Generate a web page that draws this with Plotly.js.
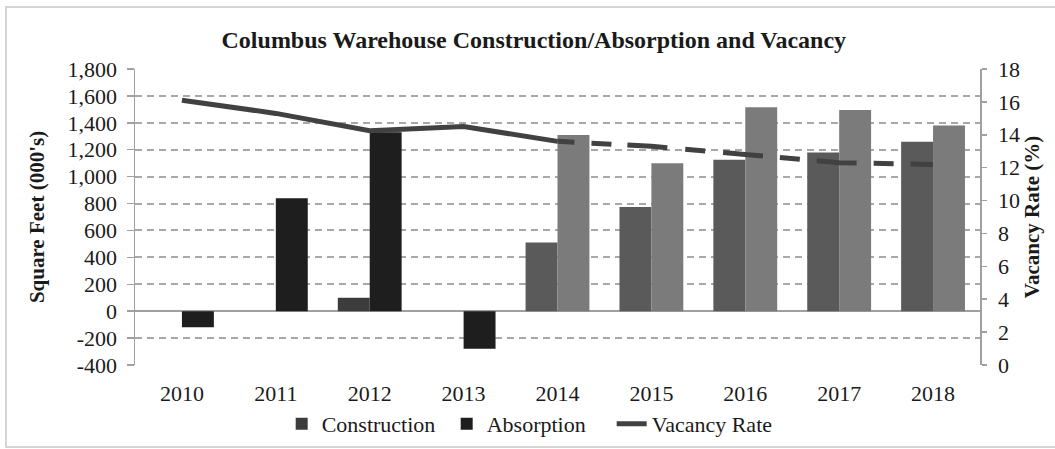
<!DOCTYPE html>
<html>
<head>
<meta charset="utf-8">
<script src="https://cdn.plot.ly/plotly-3.0.1.min.js"></script>
<style>
  html, body { margin: 0; padding: 0; background: #fff; }
  #chart { width: 1055px; height: 449px; }
</style>
</head>
<body>
<div id="chart"></div>
<script>
const years = ['2010', '2011', '2012', '2013', '2014', '2015', '2016', '2017', '2018'];
const construction = [0, 0, 100, 0, 510, 775, 1125, 1180, 1260];
const absorption = [-120, 840, 1330, -280, 1310, 1100, 1515, 1495, 1380];

// vacancy: actual through 2014, forecast after
const vacancyYears = ['2010', '2011', '2012', '2013', '2014'];
const vacancy = [16.1, 15.3, 14.25, 14.5, 13.6];
const forecastYears = ['2014', '2015', '2016', '2017', '2018'];
const forecast = [13.6, 13.3, 12.8, 12.3, 12.2];

// left axis ticks, plain hyphen for negatives like the original
const sqftTicks = [-400, -200, 0, 200, 400, 600, 800, 1000, 1200, 1400, 1600, 1800];
const sqftLabels = sqftTicks.map(v => v.toLocaleString('en-US'));

const serif = '"Liberation Serif", "Times New Roman", serif';
const isForecast = y => parseInt(y) >= 2014;

const traces = [
    {
        x: years, y: construction, type: 'bar', name: 'Construction',
        marker: { color: years.map(y => isForecast(y) ? '#5a5a5a' : '#3c3c3c') }
    },
    {
        x: years, y: absorption, type: 'bar', name: 'Absorption',
        marker: { color: years.map(y => isForecast(y) ? '#7b7b7b' : '#1e1e1e') }
    },
    {
        x: vacancyYears, y: vacancy, type: 'scatter', mode: 'lines', name: 'Vacancy Rate',
        yaxis: 'y2', line: { color: '#414141', width: 5 }
    },
    {
        x: forecastYears, y: forecast, type: 'scatter', mode: 'lines', name: 'Vacancy Rate',
        yaxis: 'y2', showlegend: false,
        line: { color: '#414141', width: 5,
                dash: '17px,17px,20px,16px,40px,18px,20px,18px,40px,17px,20px,17px,40px,17px,20px,17px,40px,17px' }
    }
];

const layout = {
    width: 1055, height: 449,
    margin: { l: 135, r: 75, t: 69, b: 84 },
    paper_bgcolor: '#fff', plot_bgcolor: '#fff',
    font: { family: serif, color: '#1a1a1a', size: 22 },
    title: {
        text: '<b>Columbus Warehouse Construction/Absorption and Vacancy</b>',
        font: { family: serif, size: 24, color: '#1a1a1a' },
        x: 0.506, xanchor: 'center', y: 0.911, yanchor: 'middle'
    },
    barmode: 'group', bargap: 0.32, bargroupgap: 0,
    showlegend: true,
    legend: {
        orientation: 'h', xref: 'container', yref: 'container',
        x: 0.267, xanchor: 'left', y: 0.056, yanchor: 'middle',
        entrywidth: 120, entrywidthmode: 'pixels',
        font: { family: serif, size: 22, color: '#1a1a1a' },
        bgcolor: 'rgba(0,0,0,0)', traceorder: 'normal'
    },
    xaxis: {
        type: 'category', showline: false, showgrid: false, zeroline: false,
        ticks: '', ticklabelstandoff: 13, automargin: false,
        tickfont: { family: serif, size: 22, color: '#1a1a1a' }
    },
    xaxis2: {
        overlaying: 'x', anchor: 'free', position: 400 / 2200, automargin: false,
        range: [-0.5, 8.5], tickvals: [0.5, 1.5, 2.5, 3.5, 4.5, 5.5, 6.5, 7.5],
        ticks: 'outside', ticklen: 6, tickwidth: 1.5, tickcolor: '#a0a0a0',
        showticklabels: false, showline: false, showgrid: false, zeroline: false
    },
    yaxis: {
        range: [-400, 1800], tickmode: 'array', tickvals: sqftTicks, ticktext: sqftLabels,
        automargin: false,
        showgrid: true, gridcolor: '#a8a8a8', gridwidth: 2, griddash: '7px,5px',
        zeroline: true, zerolinecolor: '#a0a0a0', zerolinewidth: 1.5,
        showline: true, linecolor: '#a0a0a0', linewidth: 1.5,
        ticks: 'outside', ticklen: 7, tickwidth: 1.5, tickcolor: '#a0a0a0',
        ticklabelstandoff: 5,
        tickfont: { family: serif, size: 22, color: '#1a1a1a' },
        title: { text: "<b>Square Feet (000's)</b>", standoff: 17,
                 font: { family: serif, size: 21, color: '#1a1a1a' } }
    },
    yaxis2: {
        overlaying: 'y', side: 'right', range: [0, 18], dtick: 2, automargin: false,
        showgrid: false, zeroline: false,
        showline: true, linecolor: '#a0a0a0', linewidth: 1.5,
        ticks: 'outside', ticklen: 5, tickwidth: 1.5, tickcolor: '#a0a0a0',
        ticklabelstandoff: 7,
        tickfont: { family: serif, size: 22, color: '#1a1a1a' },
        title: { text: '<b>Vacancy Rate (%)</b>', standoff: 0,
                 font: { family: serif, size: 21, color: '#1a1a1a' } }
    },
    shapes: [
        { type: 'rect', xref: 'paper', yref: 'paper',
          x0: -0.1527, x1: 1.09, y0: -0.277, y1: 1.2095,
          line: { color: '#d4d4d4', width: 2 } }
    ]
};

Plotly.newPlot('chart', traces, layout, { displayModeBar: false, staticPlot: true });
</script>
</body>
</html>
